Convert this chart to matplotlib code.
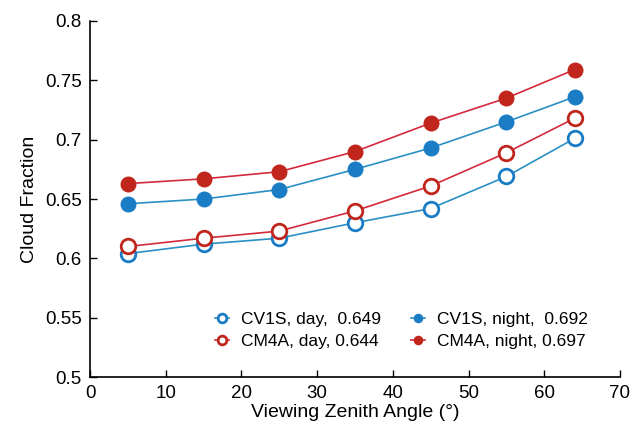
import matplotlib.pyplot as plt
from matplotlib.ticker import FuncFormatter

plt.rcParams['font.family'] = ['Liberation Sans', 'DejaVu Sans']

vza = [5, 15, 25, 35, 45, 55, 64]
cv1s_day = [0.604, 0.612, 0.617, 0.630, 0.642, 0.669, 0.701]
cm4a_day = [0.610, 0.617, 0.623, 0.640, 0.661, 0.689, 0.718]
cv1s_night = [0.646, 0.650, 0.658, 0.675, 0.693, 0.715, 0.736]
cm4a_night = [0.663, 0.667, 0.673, 0.690, 0.714, 0.735, 0.759]

labels = ["CV1S, day,  0.649", "CM4A, day, 0.644",
          "CV1S, night,  0.692", "CM4A, night, 0.697"]

blue_line = "#2a8fc4"
red_line = "#d42a3c"
blue_fill = "#1a7cc4"
red_fill = "#c0261c"

fig = plt.figure(figsize=(6.3, 4.28), dpi=100)
ax = fig.add_axes([0.143, 0.119, 0.841, 0.832])

ax.plot(vza, cv1s_day, color=blue_line, lw=1.2, marker="o", ms=10.5,
        mfc="white", mec=blue_fill, mew=2, label=labels[0])
ax.plot(vza, cm4a_day, color=red_line, lw=1.2, marker="o", ms=10.5,
        mfc="white", mec=red_fill, mew=2, label=labels[1])
ax.plot(vza, cv1s_night, color=blue_line, lw=1.2, marker="o", ms=11.5,
        mfc=blue_fill, mec=blue_fill, mew=0, label=labels[2])
ax.plot(vza, cm4a_night, color=red_line, lw=1.2, marker="o", ms=11.5,
        mfc=red_fill, mec=red_fill, mew=0, label=labels[3])

ax.set_xlim(0, 70)
ax.set_ylim(0.5, 0.8)
ax.set_xticks(range(0, 71, 10))
ax.set_yticks([0.5, 0.55, 0.6, 0.65, 0.7, 0.75, 0.8])
ax.yaxis.set_major_formatter(FuncFormatter(lambda v, p: f"{v:g}"))
ax.tick_params(direction="in", labelsize=13.5, length=5, width=1, pad=6)
for s in ["top", "right"]:
    ax.spines[s].set_visible(False)
for s in ["left", "bottom"]:
    ax.spines[s].set_linewidth(1.2)

ax.set_xlabel("Viewing Zenith Angle (°)", fontsize=14, labelpad=1)
ax.set_ylabel("Cloud Fraction", fontsize=14, labelpad=5)

ax.legend(ncol=2, frameon=False, fontsize=12.5, loc="lower right",
          bbox_to_anchor=(0.94, 0.08), borderaxespad=0, borderpad=0,
          markerscale=0.6, handlelength=0.8, columnspacing=1.75,
          handletextpad=0.7, labelspacing=0.35)

fig.savefig("out.png", dpi=100)
